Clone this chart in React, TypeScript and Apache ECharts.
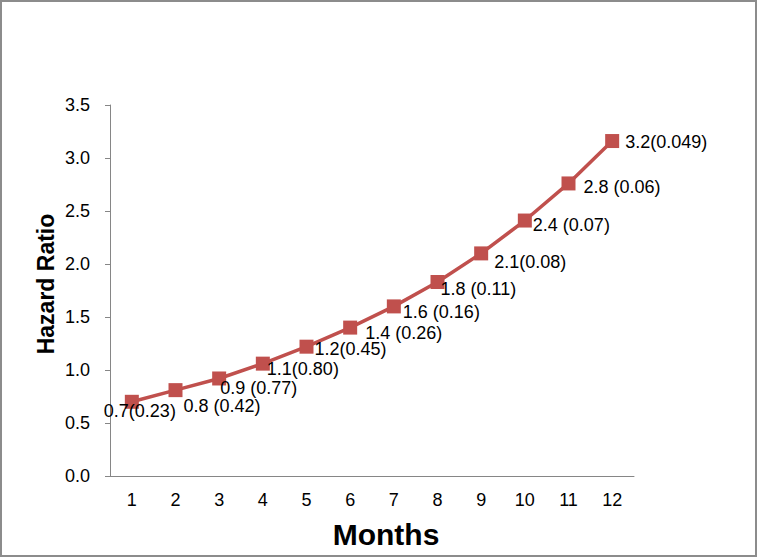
import React, { useEffect, useRef } from "react";
import * as echarts from "echarts";

const months = ["1", "2", "3", "4", "5", "6", "7", "8", "9", "10", "11", "12"];
const hazardRatio = [0.7, 0.81, 0.92, 1.06, 1.22, 1.4, 1.6, 1.83, 2.1, 2.41, 2.76, 3.16];
const pointLabels = [
  "0.7(0.23)",
  "0.8 (0.42)",
  "0.9 (0.77)",
  "1.1(0.80)",
  "1.2(0.45)",
  "1.4 (0.26)",
  "1.6 (0.16)",
  "1.8 (0.11)",
  "2.1(0.08)",
  "2.4 (0.07)",
  "2.8 (0.06)",
  "3.2(0.049)",
];
const yTicks = { min: 0, max: 3.5, interval: 0.5 };

// label nudges (layout only)
const labelNudges: [number, number][] = [
  [-35, 9], [1, 16], [-6, 10], [-3, 5], [1, 2], [8, 5],
  [2, 6], [-4, 7], [6, 9], [1, 4], [8, 4], [6, 1],
];

const FONT = "'Liberation Sans', Arial, sans-serif";
const RED = "#C0504D";
const AXIS = "#868686";

export default function App() {
  const ref = useRef<HTMLDivElement>(null);
  useEffect(() => {
    if (!ref.current) return;
    const chart = echarts.init(ref.current, undefined, { renderer: "svg" });
    chart.setOption({
      animation: false,
      backgroundColor: "#ffffff",
      grid: { left: 110, right: 124, top: 105, bottom: 82, containLabel: false },
      graphic: [
        {
          type: "rect",
          shape: { x: 1, y: 1, width: 755, height: 555 },
          style: { fill: "none", stroke: "#8c8c8c", lineWidth: 2 },
          silent: true,
        },
        {
          type: "text",
          x: 46,
          y: 284,
          rotation: Math.PI / 2,
          style: {
            text: "Hazard Ratio",
            font: `bold 23px ${FONT}`,
            fill: "#000",
            align: "center",
            verticalAlign: "middle",
          },
        },
        {
          type: "text",
          x: 386,
          y: 534,
          style: {
            text: "Months",
            font: `bold 30px ${FONT}`,
            fill: "#000",
            align: "center",
            verticalAlign: "middle",
          },
        },
      ],
      xAxis: {
        type: "category",
        data: months,
        boundaryGap: true,
        axisLine: { lineStyle: { color: AXIS, width: 1 } },
        axisTick: { inside: true, length: 5, lineStyle: { color: AXIS } },
        axisLabel: { color: "#000", fontFamily: FONT, fontSize: 18, margin: 15 },
        splitLine: { show: false },
      },
      yAxis: {
        type: "value",
        min: yTicks.min,
        max: yTicks.max,
        interval: yTicks.interval,
        axisLine: { show: true, lineStyle: { color: AXIS, width: 1 } },
        axisTick: { show: true, length: 5, lineStyle: { color: AXIS } },
        axisLabel: {
          color: "#000",
          fontFamily: FONT,
          fontSize: 18,
          margin: 20,
          formatter: (v: number) => v.toFixed(1),
        },
        splitLine: { show: false },
      },
      series: [
        {
          type: "line",
          data: hazardRatio.map((v, i) => ({
            value: v,
            label: {
              show: true,
              position: "right",
              distance: 0,
              offset: labelNudges[i],
              formatter: pointLabels[i],
            },
          })),
          symbol: "rect",
          symbolSize: 14,
          lineStyle: { color: RED, width: 3.5 },
          itemStyle: { color: RED },
          label: { color: "#000", fontFamily: FONT, fontSize: 18 },
        },
      ],
    });
    return () => chart.dispose();
  }, []);
  return (
    <div
      ref={ref}
      style={{ position: "fixed", left: 0, top: 0, width: 758, height: 558 }}
    />
  );
}
